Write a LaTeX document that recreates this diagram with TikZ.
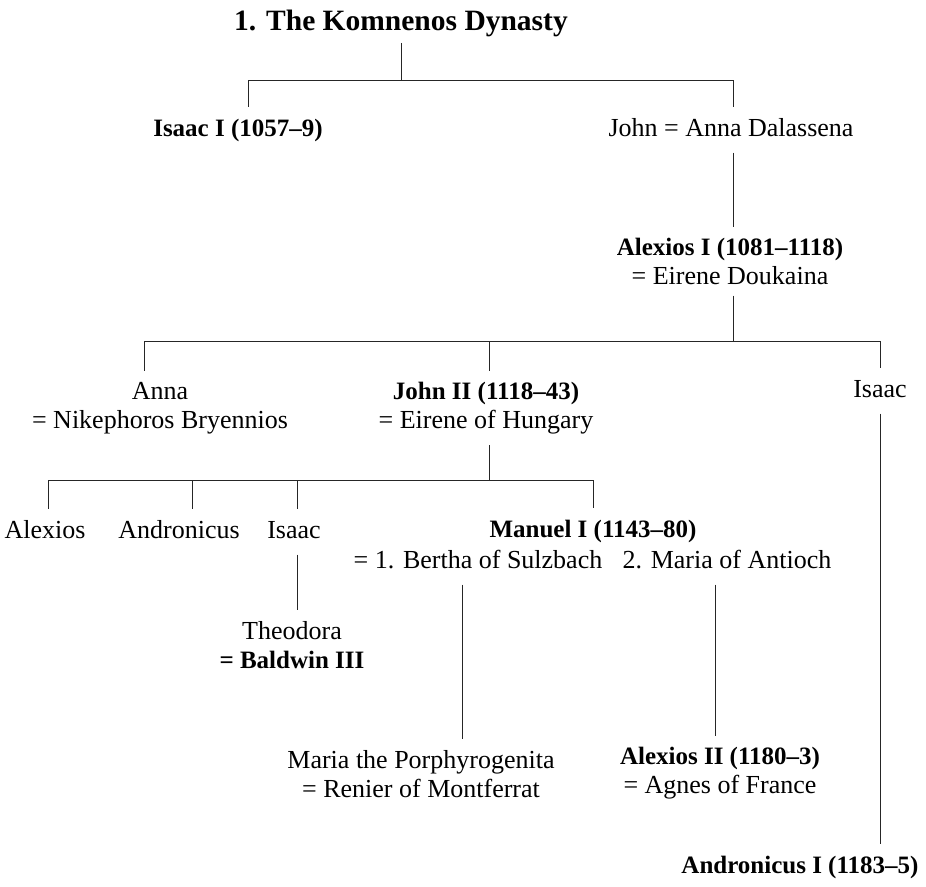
\documentclass[tikz,border=0pt]{standalone}
\usepackage{fontspec}
\setmainfont{Liberation Serif}
\newcommand\bname[1]{{\fontsize{25}{29}\selectfont\bfseries #1}}
\begin{document}
\begin{tikzpicture}[x=1pt,y=-1pt,
  person/.style={inner sep=11pt, align=center, font=\fontsize{26}{29}\selectfont},
  single/.style={person, text height=17.5pt, text depth=5.5pt},
  titlebox/.style={inner sep=6pt, font=\fontsize{29.5}{34}\selectfont\bfseries,
    text height=20.7pt, text depth=6.5pt},
  conn/.style={line width=0.9pt, draw=black!85}]
\useasboundingbox (0,0) rectangle (926,886);

% nodes
\node[titlebox] (title) at (401,23) {1. The Komnenos Dynasty};
\node[single] (isaac1) at (238,130) {\bname{Isaac I (1057–9)}};
\node[single] (john) at (731,130) {John = Anna Dalassena};
\node[person] (alexios1) at (730,261) {\bname{Alexios I (1081–1118)}\\= Eirene Doukaina};
\node[person] (anna) at (160,408) {Anna\\= Nikephoros Bryennios};
\node[person] (john2) at (486,408) {\bname{John II (1118–43)}\\= Eirene of Hungary};
\node[single] (isaacB) at (880,391) {Isaac};
\node[single] (alexiosC) at (45,532) {Alexios};
\node[single] (andronicusC) at (179,532) {Andronicus};
\node[single] (isaacC) at (294,532) {Isaac};
\node[single] (manuel) at (593,531) {\bname{Manuel I (1143–80)}};
\node[single] (bertha) at (478,562) {= 1. Bertha of Sulzbach};
\node[single] (maria) at (727,562) {2. Maria of Antioch};
\node[person] (theodora) at (292,645) {Theodora\\\bname{= Baldwin III}};
\node[person] (mariaP) at (421,774) {Maria the Porphyrogenita\\= Renier of Montferrat};
\node[person] (alexios2) at (720,773) {\bname{Alexios II (1180–3)}\\= Agnes of France};
\node[single] (andronicus1) at (800,867) {\bname{Andronicus I (1183–5)}};

% junction coordinates
\coordinate (r1) at (401,80);
\coordinate (a1) at (248,80);
\coordinate (a2) at (733,80);
\coordinate (b0) at (733,341);
\coordinate (b1) at (144,341);
\coordinate (b2) at (489,341);
\coordinate (b3) at (880,341);
\coordinate (c0) at (489,480);
\coordinate (c1) at (48,480);
\coordinate (c2) at (192,480);
\coordinate (c3) at (297,480);
\coordinate (c4) at (593,480);
\coordinate (xb) at (462,580);
\coordinate (xm) at (715,580);

% connectors
\draw[conn] (title.south) -- (title.south |- r1);
\draw[conn] (a1) -- (a2);
\draw[conn] (a1) -- (a1 |- isaac1.north);
\draw[conn] (a2) -- (a2 |- john.north);
\draw[conn] (john.south -| a2) -- (a2 |- alexios1.north);
\draw[conn] (alexios1.south -| b0) -- (b0);
\draw[conn] (b1) -- (b3);
\draw[conn] (b1) -- (b1 |- anna.north);
\draw[conn] (b2) -- (b2 |- john2.north);
\draw[conn] (b3) -- (b3 |- isaacB.north);
\draw[conn] (john2.south -| c0) -- (c0);
\draw[conn] (c1) -- (c4);
\draw[conn] (c1) -- (c1 |- alexiosC.north);
\draw[conn] (c2) -- (c2 |- andronicusC.north);
\draw[conn] (c3) -- (c3 |- isaacC.north);
\draw[conn] (c4) -- (c4 |- manuel.north);
\draw[conn] (isaacC.south -| c3) -- (c3 |- theodora.north);
\draw[conn] (bertha.south -| xb) -- (xb |- mariaP.north);
\draw[conn] (maria.south -| xm) -- (xm |- alexios2.north);
\draw[conn] (isaacB.south) -- (isaacB.south |- andronicus1.north);
\end{tikzpicture}
\end{document}
